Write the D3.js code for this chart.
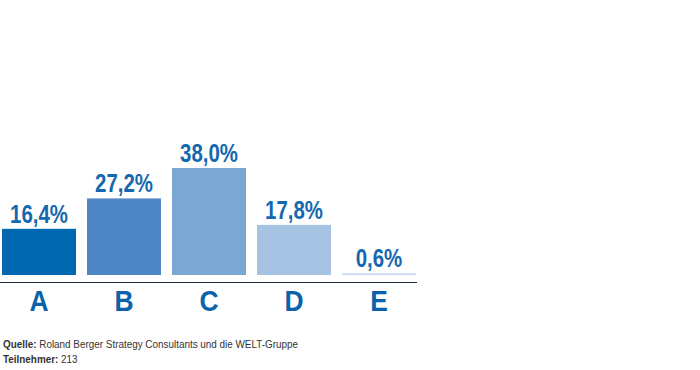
<!DOCTYPE html>
<html><head><meta charset="utf-8">
<script src="https://cdn.jsdelivr.net/npm/d3@7"></script>
<style>body{margin:0;background:#fff}svg{display:block}</style>
</head><body>
<svg id="c" width="700" height="370"></svg>
<script>
const categories = ["A","B","C","D","E"];
const values = [16.4, 27.2, 38.0, 17.8, 0.6];
const valueLabels = ["16,4%","27,2%","38,0%","17,8%","0,6%"];
const colors = ["#0067b1","#4f86c5","#7ba7d3","#a7c3e4","#c6d8ee"];
const sourceLabel = "Quelle:";
const sourceText = " Roland Berger Strategy Consultants und die WELT-Gruppe";
const participantsLabel = "Teilnehmer:";
const participantsText = " 213";

const svg = d3.select("#c");
const font = "'Liberation Sans',Arial,sans-serif";
const baseY = 275;
const x = d3.scaleBand().domain(categories).range([-3.5, 421.5]).paddingInner(0.13).paddingOuter(0.065);
const y = d3.scaleLinear().domain([0, 38]).range([baseY, 168]);

svg.selectAll("rect.bar").data(categories).enter().append("rect")
  .attr("class","bar")
  .attr("x", d => x(d)).attr("width", x.bandwidth())
  .attr("y", (d,i) => y(values[i])).attr("height", (d,i) => baseY - y(values[i]))
  .attr("fill", (d,i) => colors[i]);

svg.selectAll("text.val").data(categories).enter().append("text")
  .attr("class","val")
  .attr("transform", (d,i) => `translate(${x(d) + x.bandwidth()/2},${y(values[i]) - 6}) scale(0.8,1)`)
  .attr("text-anchor","middle")
  .attr("font-family", font).attr("font-weight","bold").attr("font-size", 25.5)
  .attr("fill","#1468ad")
  .text((d,i) => valueLabels[i]);

const axis = d3.axisBottom(x).tickSize(0).tickPadding(0);
const ax = svg.append("g").attr("transform", `translate(0,${baseY})`).call(axis);
ax.select(".domain").remove();
ax.selectAll("text").attr("y", 0).attr("dy", null)
  .attr("transform","translate(0,36) scale(0.88,1)")
  .attr("font-family", font).attr("font-weight","bold").attr("font-size", 30)
  .attr("fill","#0a62ab");
svg.append("line").attr("x1",0).attr("x2",417).attr("y1",282.5).attr("y2",282.5)
  .attr("stroke","#1f2a44").attr("stroke-width",1);

const foot = svg.append("g").attr("transform","translate(3,0) scale(0.9,1)")
  .attr("font-family", font).attr("font-size", 11).attr("fill","#333");
const t1 = foot.append("text").attr("x",0).attr("y",348);
t1.append("tspan").attr("font-weight","bold").text(sourceLabel);
t1.append("tspan").text(sourceText);
const t2 = foot.append("text").attr("x",0).attr("y",363);
t2.append("tspan").attr("font-weight","bold").text(participantsLabel);
t2.append("tspan").text(participantsText);
</script>
</body></html>
